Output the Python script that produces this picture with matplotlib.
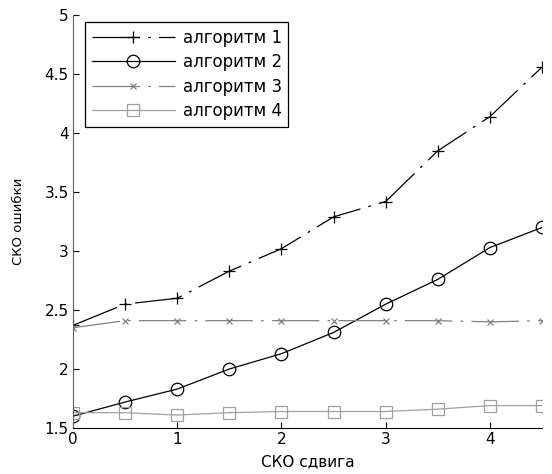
import matplotlib
matplotlib.use('Agg')
import matplotlib.pyplot as plt

# shift SKO (x axis)
shift = [0, 0.5, 1, 1.5, 2, 2.5, 3, 3.5, 4, 4.5]

# error SKO for each algorithm
alg1 = [2.37, 2.55, 2.60, 2.83, 3.02, 3.29, 3.42, 3.85, 4.14, 4.56]
alg2 = [1.60, 1.72, 1.83, 2.00, 2.13, 2.31, 2.55, 2.76, 3.03, 3.20]
alg3 = [2.35, 2.41, 2.41, 2.41, 2.41, 2.41, 2.41, 2.41, 2.40, 2.41]
alg4 = [1.63, 1.63, 1.61, 1.63, 1.64, 1.64, 1.64, 1.66, 1.69, 1.69]

labels = ['алгоритм 1', 'алгоритм 2', 'алгоритм 3', 'алгоритм 4']

plt.rcParams['font.family'] = ['DejaVu Sans']

fig = plt.figure(figsize=(5.52, 4.74), dpi=100)
ax = fig.add_axes([0.132, 0.097, 0.85, 0.871])

# matlab-like dash-dot, long dashes
dashdot = (0, (38, 6.5, 2.2, 6.5))
ax.plot(shift, alg1, color='black', lw=0.9, linestyle=dashdot,
        marker='+', markersize=9, markeredgewidth=0.9, label=labels[0])
ax.plot(shift, alg2, color='black', lw=0.9, linestyle='-',
        marker='o', markersize=9, markerfacecolor='none',
        markeredgewidth=0.9, label=labels[1])
ax.plot(shift, alg3, color='#808080', lw=0.9, linestyle=dashdot,
        marker='x', markersize=5, markeredgewidth=0.9, label=labels[2])
ax.plot(shift, alg4, color='#a0a0a0', lw=0.9, linestyle='-',
        marker='s', markersize=8, markerfacecolor='none',
        markeredgewidth=0.9, label=labels[3])

ax.set_xlim(0, 4.5)
ax.set_ylim(1.5, 5)
ax.set_xticks([0, 1, 2, 3, 4])
ax.set_yticks([1.5, 2, 2.5, 3, 3.5, 4, 4.5, 5])
ax.set_yticklabels(['1.5', '2', '2.5', '3', '3.5', '4', '4.5', '5'])
ax.tick_params(direction='in', length=4, labelsize=11, pad=3)

ax.spines['top'].set_visible(False)
ax.spines['right'].set_visible(False)
ax.spines['left'].set_color('#606060')

ax.set_xlabel('СКО сдвига', fontsize=11, labelpad=5)
ax.set_ylabel('СКО ошибки', fontsize=9.5, labelpad=14)

leg = ax.legend(loc='upper left', bbox_to_anchor=(0.026, 0.983), fontsize=12,
                fancybox=False, framealpha=1, edgecolor='black',
                handlelength=5.0, handletextpad=0.45, borderpad=0.4,
                labelspacing=0.38, borderaxespad=0)
leg.get_frame().set_linewidth(0.9)

fig.savefig('out.png', dpi=100)
